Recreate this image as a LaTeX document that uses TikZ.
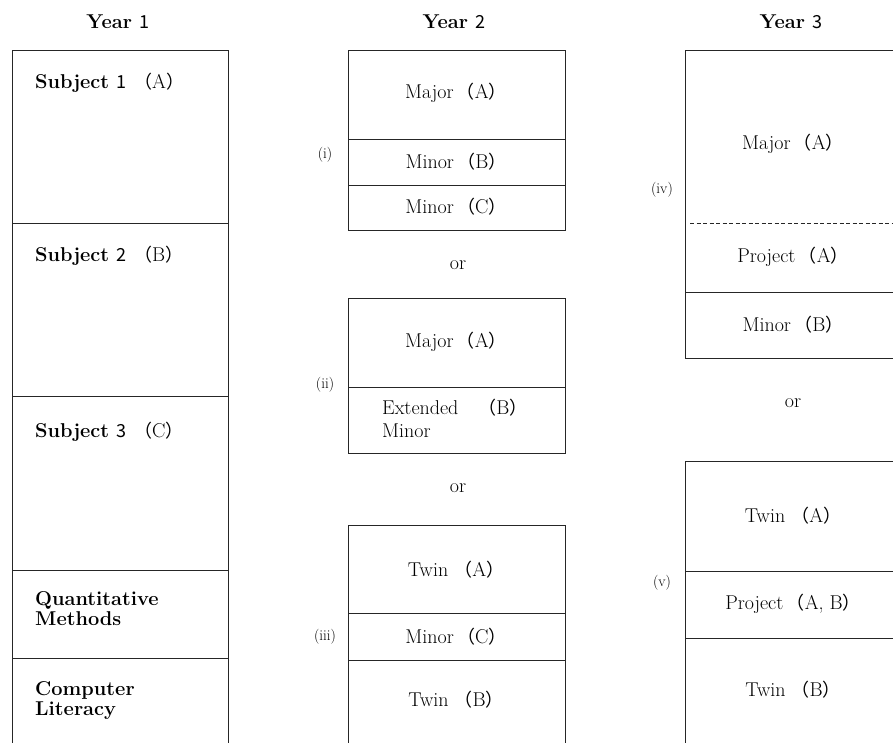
\documentclass[tikz,border=0pt]{standalone}
\usepackage{fontspec}
\newfontfamily\cjk{Noto Sans CJK JP}
\newcommand{\jp}[1]{{\cjk\mdseries\fontsize{18}{20}\selectfont #1}}
\newcommand{\lp}{\jp{（}}
\newcommand{\rp}{\jp{）}}
\begin{document}
\begin{tikzpicture}[x=1pt,y=-1pt,
  boxline/.style={line width=0.8pt,black!85},
  txt/.style={font=\fontsize{20}{23}\selectfont,inner sep=0pt},
  btxt/.style={font=\fontsize{20}{20}\selectfont\bfseries,inner sep=0pt,anchor=west,align=left},
  ttl/.style={font=\fontsize{20}{23}\selectfont\bfseries,inner sep=0pt},
  rom/.style={font=\fontsize{15}{17}\selectfont,inner sep=0pt},
  ortxt/.style={font=\fontsize{20}{23}\selectfont,inner sep=0pt}]
\useasboundingbox (0,0) rectangle (893,743);
% titles
\node[ttl] (t1) at (118,22) {Year \jp{1}};
\node[ttl] (t2) at (454,22) {Year \jp{2}};
\node[ttl] (t3) at (791,22) {Year \jp{3}};
% Year 1
\draw[boxline] (12,760) -- (12,50) -- (228,50) -- (228,760);
\foreach \yy in {223,396,570,658} \draw[boxline] (12,\yy) -- (228,\yy);
\node[btxt] (s1) at (35,83) {Subject \jp{1} \lp{\mdseries A}\rp};
\node[btxt] (s2) at (35,256) {Subject \jp{2} \lp{\mdseries B}\rp};
\node[btxt] (s3) at (35,432) {Subject \jp{3} \lp{\mdseries C}\rp};
\node[btxt] (qm) at (35,609) {Quantitative\\Methods};
\node[btxt] (cl) at (35,701) {Computer\\Literacy};
% Year 2 (i)
\draw[boxline] (348,50) rectangle (565,230);
\draw[boxline] (348,139) -- (565,139);
\draw[boxline] (348,185) -- (565,185);
\node[txt] (i1) at (456,93) {Major\,\lp A\rp};
\node[txt] (i2) at (456,162) {Minor\,\lp B\rp};
\node[txt] (i3) at (456,207) {Minor\,\lp C\rp};
\node[rom] (li) at (325,155) {(i)};
\node[ortxt] (or1) at (458,265) {or};
% (ii)
\draw[boxline] (348,298) rectangle (565,453);
\draw[boxline] (348,387) -- (565,387);
\node[txt] (ii1) at (456,342) {Major\,\lp A\rp};
\node[txt,anchor=west,align=left] (ii2) at (382,418) {Extended\quad\lp B\rp\\Minor};
\node[rom] (lii) at (325,385) {(ii)};
\node[ortxt] (or2) at (458,488) {or};
% (iii)
\draw[boxline] (348,760) -- (348,525) -- (565,525) -- (565,760);
\draw[boxline] (348,613) -- (565,613);
\draw[boxline] (348,660) -- (565,660);
\node[txt] (iii1) at (456,570) {Twin \lp A\rp};
\node[txt] (iii2) at (456,637) {Minor\,\lp C\rp};
\node[txt] (iii3) at (456,700) {Twin \lp B\rp};
\node[rom] (liii) at (325,637) {(iii)};
% Year 3 (iv)
\draw[boxline] (900,50) -- (685,50) -- (685,358) -- (900,358);
\draw[boxline,dashed,dash pattern=on 4pt off 2.5pt] (690,223) -- (900,223);
\draw[boxline] (685,292) -- (900,292);
\node[txt] (iv1) at (793,144) {Major\,\lp A\rp};
\node[txt] (iv2) at (793,257) {Project\,\lp A\rp};
\node[txt] (iv3) at (793,325) {Minor\,\lp B\rp};
\node[rom] (liv) at (662,190) {(iv)};
\node[ortxt] (or3) at (793,403) {or};
% (v)
\draw[boxline] (685,760) -- (685,461) -- (900,461);
\draw[boxline] (685,571) -- (900,571);
\draw[boxline] (685,638) -- (900,638);
\node[txt] (v1) at (793,516) {Twin \lp A\rp};
\node[txt] (v2) at (793,604) {Project\,\lp A, B\rp};
\node[txt] (v3) at (793,690) {Twin \lp B\rp};
\node[rom] (lv) at (662,583) {(v)};
\end{tikzpicture}
\end{document}
